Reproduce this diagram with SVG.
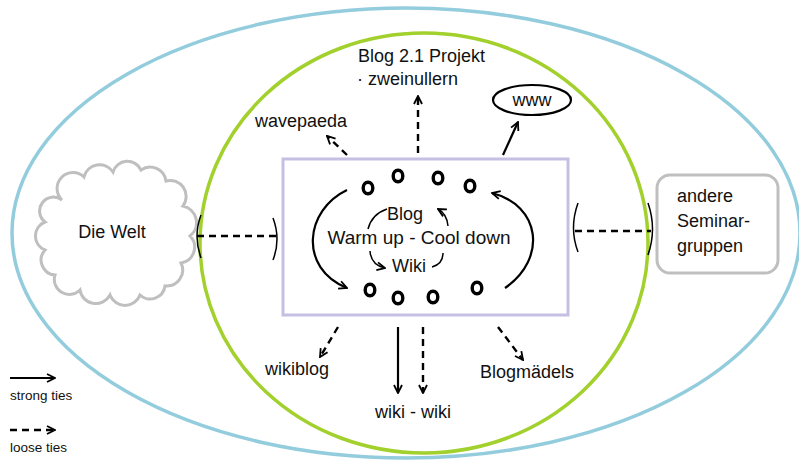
<svg xmlns="http://www.w3.org/2000/svg" width="799" height="465" viewBox="0 0 799 465">
<style>
text{font-family:"Liberation Sans",Arial,sans-serif;fill:#111;font-size:18px}
.c{text-anchor:middle}
.ln{fill:none;stroke:#000;stroke-width:2.2}
.ds{fill:none;stroke:#000;stroke-width:2.4;stroke-dasharray:7,5}
.br{fill:none;stroke:#000;stroke-width:1.5}
.o{fill:none;stroke:#000;stroke-width:3.4}
.gray{fill:#fff;stroke:#bfbfbf;stroke-width:3}
</style>
<defs>
<marker id="ah" viewBox="0 0 10 10" refX="9" refY="5" markerWidth="10" markerHeight="10" markerUnits="userSpaceOnUse" orient="auto">
<path d="M1,1 L9,5 L1,9" fill="none" stroke="#000" stroke-width="1.8"/>
</marker>
</defs>
<rect width="799" height="465" fill="#fff"/>
<g id="outer"><ellipse cx="406" cy="233" rx="394" ry="225" fill="none" stroke="#93cddd" stroke-width="3.5"/></g>
<g id="inner"><ellipse cx="424" cy="243" rx="224" ry="210" fill="none" stroke="#a2d02c" stroke-width="3.5"/></g>
<g id="core">
<rect x="283" y="159" width="285" height="156" fill="#fff" stroke="#c4c0e4" stroke-width="3"/>
<ellipse class="o" cx="368" cy="188" rx="4.8" ry="5.8"/>
<ellipse class="o" cx="398" cy="176" rx="4.8" ry="5.8"/>
<ellipse class="o" cx="438" cy="178" rx="4.8" ry="5.8"/>
<ellipse class="o" cx="470" cy="186" rx="4.8" ry="5.8"/>
<ellipse class="o" cx="370" cy="290" rx="4.8" ry="5.8"/>
<ellipse class="o" cx="398" cy="298" rx="4.8" ry="5.8"/>
<ellipse class="o" cx="433" cy="297" rx="4.8" ry="5.8"/>
<ellipse class="o" cx="477" cy="288" rx="4.8" ry="5.8"/>
<text class="c" x="405" y="220">Blog</text>
<text class="c" x="419" y="244" style="font-size:19px">Warm up - Cool down</text>
<text class="c" x="409" y="272">Wiki</text>
<path class="ln" d="M347,190 C305,210 298,268 347,288" marker-end="url(#ah)"/>
<path class="ln" d="M505,288 C548,258 540,205 492,193" marker-end="url(#ah)"/>
<path class="br" d="M387,209 Q372,214 368,229"/>
<path class="br" d="M370,251 Q371,265 385,268" marker-end="url(#ah)"/>
<path class="br" d="M432,267 Q443,264 443,253"/>
<path class="br" d="M448,226 Q447,214 438,209" marker-end="url(#ah)"/>
</g>
<g id="welt">
<path class="gray" d="M62,200 A15,15 0 0 1 84,177 A16,16 0 0 1 113,172 A15,15 0 0 1 141,170 A16,16 0 0 1 166,181 A16,16 0 0 1 183,206 A17,17 0 0 1 190,236 A16,16 0 0 1 181,263 A16,16 0 0 1 165,286 A15,15 0 0 1 140,295 A16,16 0 0 1 110,295 A16,16 0 0 1 80,290 A15,15 0 0 1 55,275 A15,15 0 0 1 45,250 A15,15 0 0 1 45,222 A13,13 0 0 1 62,200 Z"/>
<text class="c" x="112" y="238">Die Welt</text>
</g>
<g id="seminar">
<rect class="gray" x="657" y="175" width="121" height="98" rx="13"/>
<text x="677" y="202">andere</text>
<text x="677" y="227">Seminar-</text>
<text x="677" y="252">gruppen</text>
</g>
<g id="blog21">
<text x="358" y="62">Blog 2.1 Projekt</text>
<text x="357" y="85">· zweinullern</text>
</g>
<g id="wavepaeda"><text x="255" y="127">wavepaeda</text></g>
<g id="www">
<ellipse cx="532" cy="100" rx="39" ry="15" fill="#fff" stroke="#000" stroke-width="2.2"/>
<text class="c" x="532" y="106">www</text>
</g>
<g id="wikiblog"><text x="265" y="375">wikiblog</text></g>
<g id="wikiwiki"><text x="375" y="418">wiki - wiki</text></g>
<g id="blogmaedels"><text x="480" y="378">Blogmädels</text></g>
<g id="legend">
<path class="ln" d="M10,378 L55,378" marker-end="url(#ah)"/>
<text x="10" y="400" style="font-size:13.5px">strong ties</text>
<path class="ds" d="M10,430 L55,430" marker-end="url(#ah)"/>
<text x="10" y="452" style="font-size:13.5px">loose ties</text>
</g>
<g id="connectors">
<path class="br" d="M201,215 Q193,236 201,258"/>
<path class="ds" d="M197,236 L277,236"/>
<path class="br" d="M273,218 Q281,239 273,260"/>
<path class="br" d="M578,203 Q569,228 578,252"/>
<path class="ds" d="M575,231 L651,231"/>
<path class="br" d="M648,203 Q657,229 648,255"/>
<path class="ds" d="M418,153 L418,96" marker-end="url(#ah)"/>
<path class="ds" d="M347,155 L327,136" marker-end="url(#ah)"/>
<path class="ln" d="M503,155 L518,122" marker-end="url(#ah)"/>
<path class="ds" d="M338,327 L320,357" marker-end="url(#ah)"/>
<path class="ln" d="M398,327 L398,393" marker-end="url(#ah)"/>
<path class="ds" d="M423,327 L423,393" marker-end="url(#ah)"/>
<path class="ds" d="M498,327 L523,360" marker-end="url(#ah)"/>
</g>
</svg>
